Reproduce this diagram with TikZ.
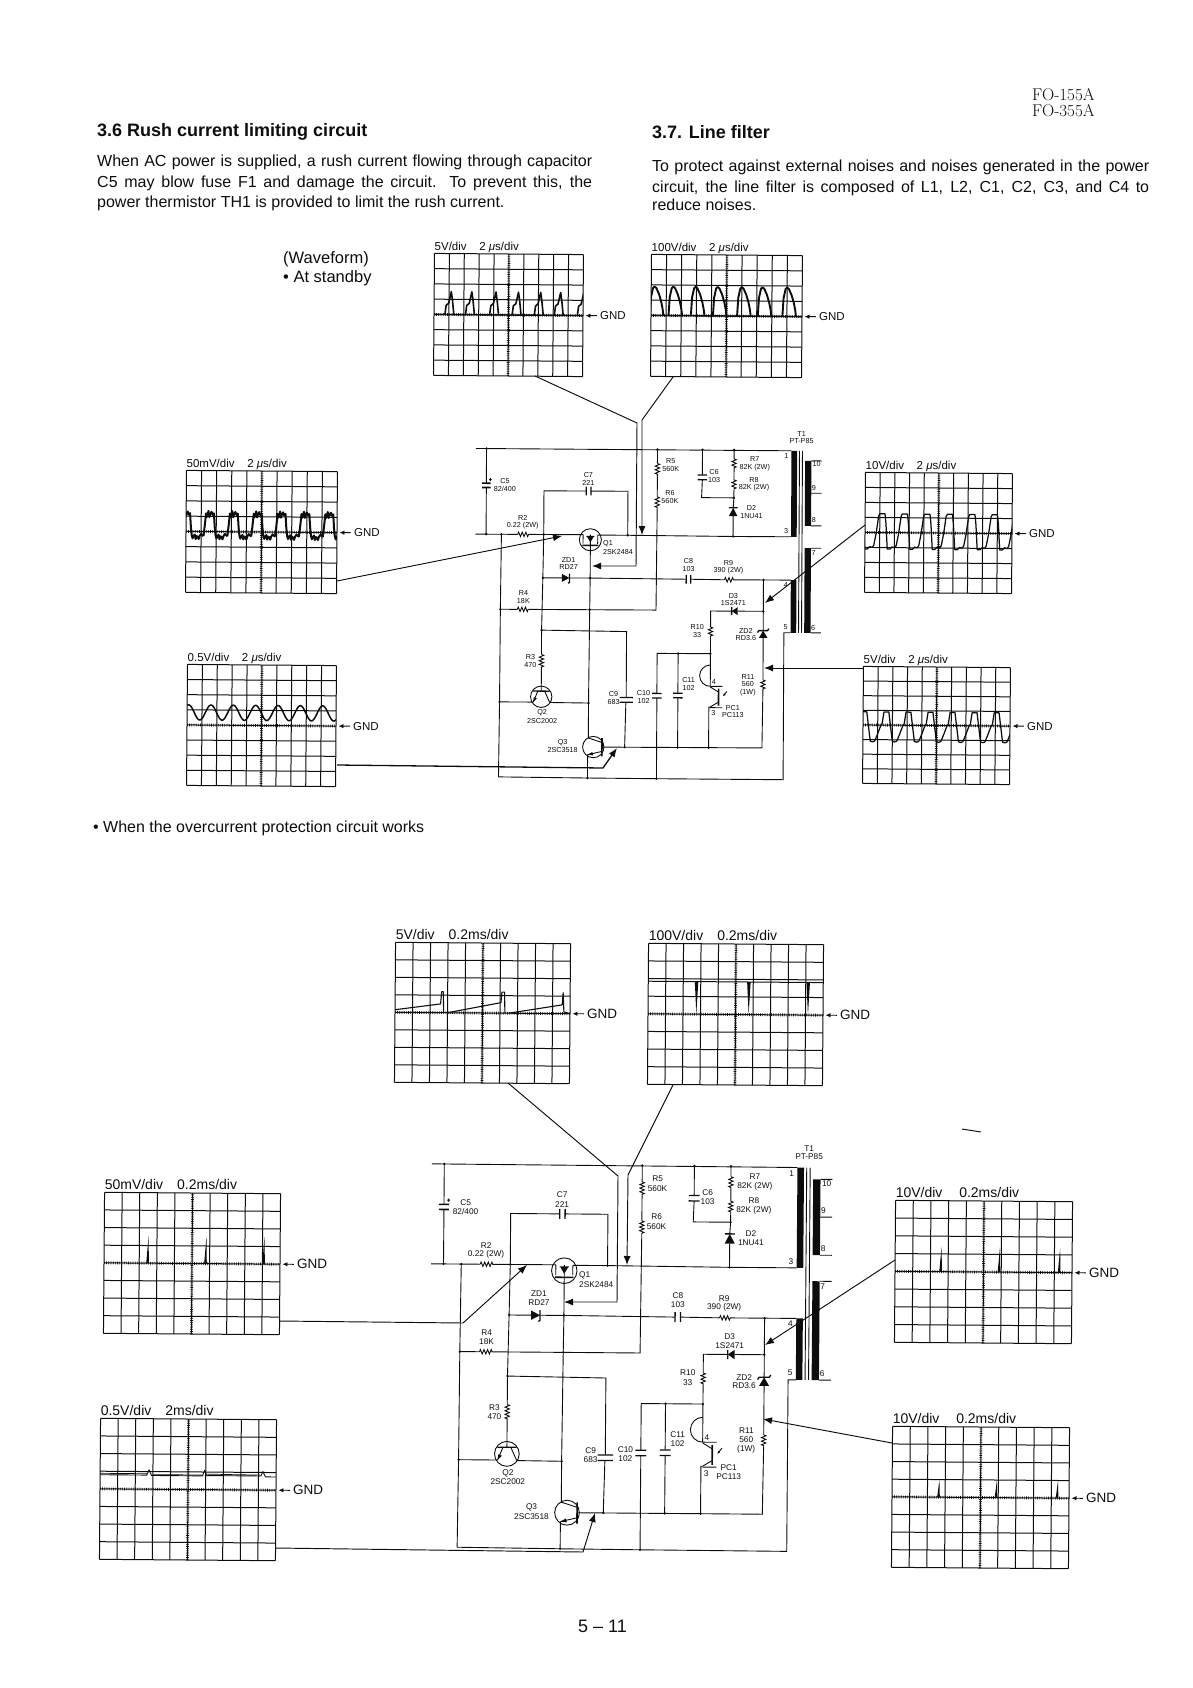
\documentclass[tikz,border=0pt]{standalone}
\usepackage{fontspec}
\setsansfont{Liberation Sans}
\renewcommand\familydefault{\sfdefault}
\usetikzlibrary{arrows.meta,decorations.pathmorphing}
\definecolor{ink}{gray}{0.05}
\newcount\lblcount
\tikzset{
  gridline/.style={draw=ink,line width=1pt},
  axistick/.style={draw=ink,line width=2.8pt,dash pattern=on 0.7pt off 1.5pt},
  wave/.style={draw=ink,line join=round,line width=1.4pt},
  wire/.style={draw=ink,line width=0.9pt},
  rz/.style={draw=ink,line width=0.9pt,decorate,decoration={zigzag,amplitude=2.2pt,segment length=3.6pt}},
  plate/.style={draw=ink,line width=1.3pt},
  link/.style={draw=ink,line width=0.95pt},
  tiplink/.style={draw=ink,line width=0.95pt,-{Latex[length=9pt,width=7pt]}},
  gndarrow/.style={draw=ink,line width=0.9pt,-{Latex[length=5pt,width=4.5pt]}},
  para/.style={anchor=base west,inner sep=0pt,text=ink},
  clabel/.style={inner sep=0pt,text=ink},
}
\newcommand\fs[1]{\fontsize{#1}{#1}\selectfont}
% ---- oscilloscope ---- name,left,top,right,bottom,label font,label,waves
\newcommand\oscope[8]{%
  \pgfmathsetmacro\ux{(#4-#2)/10}\pgfmathsetmacro\uy{(#5-#3)/8}%
  \pgfmathsetmacro\cx{(#2+#4)/2}\pgfmathsetmacro\cy{(#3+#5)/2}%
  \begin{scope}[shift={(\cx,\cy)},rotate=-0.45,x=\ux pt,y=\uy pt,shift={(-5,0)}]
    \foreach \i in {0,...,10}{\draw[gridline] (\i,-4)--(\i,4);}
    \foreach \i in {-4,...,4}{\draw[gridline] (0,\i)--(10,\i);}
    \draw[axistick] (5,-4)--(5,4);
    \draw[axistick] (0,0)--(10,0);
    \begin{scope}
      \clip (0,-4) rectangle (10,4);
      #8
    \end{scope}
    \coordinate (#1edge) at (10,0);
    \node[para,font=\fs{#6},anchor=base west] (#1label) at ([yshift=3pt]0,4) {#7};
    \node[anchor=west,inner xsep=3pt,inner ysep=0pt,text=ink,font=\fs{\gndsize}] (#1gnd) at ([xshift=14pt]10,0) {GND};
    \draw[gndarrow] (#1gnd.west) -- ([xshift=2.5pt]#1edge);
  \end{scope}%
}
\newcommand\pulses[3]{\foreach \s in {#1}{\draw[wave,line width=#2,shift={(\s,0)}] plot coordinates {#3};}}
\newcommand\spk[2]{\foreach \s in {#1}{\fill[ink] (\s-.1,0)--(\s+.02,#2)--(\s+.05,0)--cycle;}}
% ---- circuit helpers (zoom units) ----
\newcommand\vres[3]{\draw[rz] (#1,#2)--(#1,#3);}
\newcommand\hres[3]{\draw[rz] (#2,#1)--(#3,#1);}
\newcommand\vcapz[3]{\draw[plate] (#1-#3,#2-7)--(#1+#3,#2-7);\draw[plate] (#1-#3,#2+7)--(#1+#3,#2+7);}
\newcommand\hcapz[3]{\draw[plate] (#1-7,#2-#3)--(#1-7,#2+#3);\draw[plate] (#1+7,#2-#3)--(#1+7,#2+#3);}
\newcommand\lab[3]{\global\advance\lblcount by 1\node[clabel] (lab\the\lblcount) at (#1,#2) {#3};}
% prefix,x0,y0,sx,sy,font,rot
\newcommand\circuit[7]{%
\begin{scope}[shift={(#2,#3)},x=#4pt,y=-#5pt,rotate around={#7:(600,580)},font=\fs{#6}]
  % named junctions
  \coordinate (#1a) at (137,88); \coordinate (#1b) at (650,88); \coordinate (#1c) at (785,88); \coordinate (#1d) at (880,88);
  \coordinate (#1e) at (137,345); \coordinate (#1f) at (183,345); \coordinate (#1g) at (310,345); \coordinate (#1h) at (562,346);
  \coordinate (#1i) at (878,348); \coordinate (#1j) at (308,475); \coordinate (#1k) at (450,475); \coordinate (#1l) at (970,478);
  \coordinate (#1m) at (181,570); \coordinate (#1n) at (449,570); \coordinate (#1o) at (970,572); \coordinate (#1p) at (305,632);
  \coordinate (#1q) at (812,700); \coordinate (#1r) at (715,700); \coordinate (#1s) at (180,848); \coordinate (#1t) at (447,850);
  \coordinate (#1u) at (556,982); \coordinate (#1v) at (715,982); \coordinate (#1w) at (808,982); \coordinate (#1x) at (445,1075);
  \coordinate (#1y) at (652,1076); \coordinate (#1z) at (880,232);
  % top rail
  \draw[wire] (105,88) -- (1052,90);
  \draw[wire] (#1a) -- (137,191) (137,207) -- (#1e);
  \draw[plate,line width=1.6pt] (124,192)--(150,192) (124,205)--(150,205);
  \draw[wire] (145,181)--(153,181) (149,177)--(149,185);
  % second rail
  \draw[wire] (105,345) -- (232,345) (265,345) -- (#1g) -- (428,345);
  \hres{345}{232}{265}
  \draw[wire] (472,346) -- (#1h) -- (#1i) -- (1052,348);
  % left vertical
  \draw[wire] (#1f) -- (#1m) -- (#1s) -- (178,1073);
  % C7
  \draw[wire] (#1g) -- (310,214) -- (437,214) (450,214) -- (562,214) -- (#1h);
  \hcapz{444}{214}{13}
  % x=310 down
  \draw[wire] (#1g) -- (#1j) -- (#1p) -- (305,705) (305,745) -- (305,815);
  \vres{305}{705}{745}
  % C8 row
  \draw[wire] (#1j) -- (365,475) (388,475) -- (#1k) -- (738,477) (752,477) -- (853,478) (885,478) -- (#1l) -- (1052,478);
  \fill[ink] (365,463)--(365,487)--(388,475)--cycle;
  \draw[plate] (384,491)--(388,488)--(388,462);
  \hcapz{745}{477}{13}
  \hres{478}{853}{885}
  % R4, R5, R6
  \draw[wire] (#1m) -- (232,570) (265,570) -- (#1n) -- (648,570) -- (650,265) (650,230) -- (650,165) (650,130) -- (#1b);
  \hres{570}{232}{265}
  \vres{650}{130}{165}
  \vres{650}{230}{265}
  % Q1
  \draw[wire] (450,360) circle (33);
  \draw[wire] (428,345)--(428,372) (472,346)--(472,372);
  \draw[plate,line width=1.6pt] (426,377)--(474,377);
  \fill[ink] (440,351)--(460,351)--(450,368)--cycle;
  \draw[wire] (438,350)--(462,350) (450,345)--(450,377);
  % gate vertical
  \draw[wire] (450,377) -- (#1k) -- (#1n) -- (#1t) -- (447,955) (445,1005) -- (#1x);
  % C9
  \draw[wire] (#1p) -- (560,635) -- (560,832) (559,848) -- (#1u);
  \vcapz{560}{840}{20}
  % Q2
  \draw[wire] (305,832) circle (32);
  \draw[plate] (280,815)--(330,815);
  \draw[wire] (294,817)--(281,848) (316,817)--(330,848);
  \fill[ink] (281,848)--(283,833)--(292,837)--cycle;
  \draw[wire] (#1s)--(281,848) (330,849)--(#1t);
  % Q3
  \draw[wire] (462,982) circle (32);
  \draw[plate,line width=1.6pt] (488,955)--(488,1010);
  \draw[wire] (488,968)--(447,955) (488,995)--(445,1005);
  \fill[ink] (445,1005)--(459,997)--(462,1007)--cycle;
  \draw[wire] (488,982) -- (#1u) -- (#1v) -- (#1w) -- (968,982) -- (970,808) (970,778) -- (970,652) (970,630) -- (#1o) -- (#1l);
  \vres{970}{778}{808}
  \fill[ink] (957,652)--(983,652)--(970,630)--cycle;
  \draw[plate] (953,636)--(957,630)--(983,630)--(987,624);
  % D3, R10
  \draw[wire] (#1o) -- (893,572) (875,572) -- (812,572) -- (812,620) (812,650) -- (#1q) -- (812,797);
  \fill[ink] (893,560)--(893,584)--(875,572)--cycle;
  \draw[plate] (875,560)--(875,584);
  \vres{812}{620}{650}
  % C10, C11
  \draw[wire] (#1q) -- (#1r) -- (652,700) -- (652,820) (652,834) -- (#1y);
  \vcapz{652}{827}{14}
  \draw[wire] (#1r) -- (715,818) (715,834) -- (#1v);
  \vcapz{715}{826}{14}
  % PC1
  \draw[wire] (812,798) arc[start angle=90,end angle=270,radius=32];
  \draw[wire] (812,798)--(848,798) (812,862)--(848,862);
  \draw[plate,line width=1.6pt] (837,805)--(837,856);
  \draw[wire] (837,815)--(812,800) (837,845)--(812,860);
  \draw[wire] (812,860)--(808,860) -- (#1w);
  \draw[wire,-{Latex[length=3pt,width=2.5pt]}] (862,813)--(850,828);
  % bottom rail
  \draw[wire] (178,1073) -- (#1x) -- (#1y) -- (1032,1077) -- (1032,636) -- (1052,636);
  % C6, R7, R8, D2
  \draw[wire] (#1c) -- (785,163) (785,179) -- (783,232) -- (#1z);
  \vcapz{785}{171}{14}
  \draw[wire] (#1d) -- (880,115) (880,145) -- (880,178) (880,208) -- (#1z) -- (878,262) (878,287) -- (#1i);
  \vres{880}{115}{145}
  \vres{880}{178}{208}
  \fill[ink] (865,287)--(891,287)--(878,262)--cycle;
  \draw[plate] (865,262)--(891,262);
  % transformer
  \fill[ink] (1052,90) rectangle (1069,348);
  \fill[ink] (1052,478) rectangle (1069,636);
  \draw[wire] (1076,90)--(1076,636) (1085,90)--(1085,636);
  \fill[ink] (1093,120) rectangle (1112,315);
  \fill[ink] (1093,382) rectangle (1112,636);
  \draw[wire] (1112,120)--(1143,120) (1112,217)--(1143,217) (1112,315)--(1143,315) (1112,382)--(1143,382) (1112,636)--(1143,636);
  % junction dots
  \foreach \n in {a,b,c,d,e,f,g,h,i,j,k,l,m,n,o,p,q,r,s,t,u,v,w,x,y,z}{\fill[ink] (#1\n) circle (1.3pt);}
  % labels
  \lab{1082}{40}{T1}\lab{1082}{62}{PT-P85}
  \lab{1037}{105}{1}\lab{1037}{332}{3}\lab{1037}{492}{4}\lab{1037}{618}{5}
  \lab{1128}{130}{10}\lab{1120}{200}{9}\lab{1120}{298}{8}\lab{1120}{397}{7}\lab{1120}{620}{6}
  \lab{247}{296}{R2}\lab{247}{320}{0.22 (2W)}
  \lab{443}{165}{C7}\lab{443}{190}{221}
  \lab{193}{186}{C5}\lab{193}{210}{82/400}
  \lab{690}{122}{R5}\lab{690}{146}{560K}\lab{688}{220}{R6}\lab{688}{244}{560K}
  \lab{820}{156}{C6}\lab{820}{179}{103}
  \lab{942}{115}{R7}\lab{942}{140}{82K (2W)}\lab{940}{177}{R8}\lab{940}{201}{82K (2W)}
  \lab{933}{262}{D2}\lab{933}{285}{1NU41}
  \lab{503}{371}{Q1}\lab{533}{395}{2SK2484}
  \lab{385}{420}{ZD1}\lab{385}{443}{RD27}
  \lab{745}{423}{C8}\lab{745}{445}{103}
  \lab{865}{428}{R9}\lab{865}{451}{390 (2W)}
  \lab{880}{527}{D3}\lab{880}{549}{1S2471}
  \lab{250}{522}{R4}\lab{250}{545}{18K}
  \lab{772}{620}{R10}\lab{772}{644}{33}
  \lab{918}{630}{ZD2}\lab{918}{652}{RD3.6}
  \lab{272}{713}{R3}\lab{272}{737}{470}
  \lab{925}{768}{R11}\lab{925}{791}{560}\lab{925}{815}{(1W)}
  \lab{522}{823}{C9}\lab{522}{846}{683}
  \lab{612}{820}{C10}\lab{612}{842}{102}
  \lab{747}{779}{C11}\lab{747}{802}{102}
  \lab{823}{786}{4}\lab{822}{878}{3}
  \lab{880}{862}{PC1}\lab{880}{885}{PC113}
  \lab{308}{881}{Q2}\lab{308}{904}{2SC2002}
  \lab{370}{970}{Q3}\lab{370}{992}{2SC3518}
\end{scope}%
}
\newcommand\gndsize{11.5}
\begin{document}
\begin{tikzpicture}[x=1pt,y=-1pt]
\useasboundingbox (0,0) rectangle (1192,1688);
% ---- page text ----
\node[para,font={\rmfamily\fs{17}}] (hdrA) at (1032,101) {FO-155A};
\node[para,font={\rmfamily\fs{17}}] (hdrB) at (1032,117) {FO-355A};
\node[para,font={\bfseries\fs{18}}] (headA) at (97,137) {3.6 Rush current limiting circuit};
\node[para,font={\bfseries\fs{18}}] (headB) at (652,139) {3.7. Line filter};
\node[para,font=\fs{16}] (bodyA1) at (97,167) {\makebox[495pt][s]{When AC power is supplied, a rush current flowing through capacitor}};
\node[para,font=\fs{16}] (bodyA2) at (97,188) {\makebox[495pt][s]{C5 may blow fuse F1 and damage the circuit. To prevent this, the}};
\node[para,font=\fs{16}] (bodyA3) at (97,208) {power thermistor TH1 is provided to limit the rush current.};
\node[para,font=\fs{16}] (bodyB1) at (652,172) {\makebox[497pt][s]{To protect against external noises and noises generated in the power}};
\node[para,font=\fs{16}] (bodyB2) at (652,193) {\makebox[497pt][s]{circuit, the line filter is composed of L1, L2, C1, C2, C3, and C4 to}};
\node[para,font=\fs{16}] (bodyB3) at (652,211) {reduce noises.};
\node[para,font=\fs{16.5}] (wfA) at (283,264) {(Waveform)};
\node[para,font=\fs{16.5}] (wfB) at (283,282) {\textbullet\ At standby};
\node[para,font=\fs{16}] (over) at (93,832) {\textbullet\ When the overcurrent protection circuit works};
\node[para,font=\fs{18}] (pageno) at (578,1632) {5 -- 11};
% ---- upper scopes ----
\oscope{A}{434}{254}{583}{376}{11.5}{5V/div\hspace{1.1em}2 {\itshape μ}s/div}{%
  \draw[wave,line width=1.4pt] (0,0)--(10,0);
  \pulses{0.73,2.11,3.73,5.24,6.73,8.07,9.62}{1.6pt}{(0,0)(.08,.6)(.25,.75)(.42,1.5)(.5,.95)(.6,0)}}
\oscope{B}{651}{255}{802}{377}{11.5}{100V/div\hspace{1.1em}2 {\itshape μ}s/div}{%
  \draw[wave,line width=1.4pt] (0,0)--(10,0);
  \pulses{-.08,1.16,2.64,4.1,5.7,7.07,8.7}{1.9pt}{(0,0)(.07,1.2)(.2,1.8)(.3,1.9)(.42,1.8)(.6,1.4)(.75,.9)(.85,.4)(.9,0)}}
\oscope{C}{186}{471}{337}{593}{11.5}{50mV/div\hspace{1.1em}2 {\itshape μ}s/div}{%
  \pulses{-.42,1.16,2.74,4.32,5.9,7.48,9.06}{2pt}{(0,-.3)(.08,.4)(.16,1.2)(.2,.95)(.25,1.05)(.32,1.35)(.38,.95)(.42,1.1)(.52,1.3)(.6,1.1)(.68,1.2)(.74,.3)(.8,-.25)(.86,-.45)(.92,-.3)(1,-.2)(1.06,-.5)(1.12,-.3)(1.2,-.35)(1.26,-.5)(1.32,-.3)(1.42,-.15)(1.58,-.3)}}
\oscope{D}{187}{665}{336}{786}{11.5}{0.5V/div\hspace{1.1em}2 {\itshape μ}s/div}{%
  \draw[wave,line width=1.5pt] plot[domain=0:10,samples=160] (\x,{.83+.5*cos(240*(\x-1.6))});}
\oscope{E}{865}{473}{1012}{593}{11.5}{10V/div\hspace{1.1em}2 {\itshape μ}s/div}{%
  \pulses{-1.03,.5,2.03,3.56,5.09,6.62,8.15,9.68}{1.25pt}{(0,-1)(.1,-.85)(.25,-.1)(.42,1.1)(.5,1.25)(.85,1.25)(.92,.6)(1.02,-1.1)(1.2,-1.1)(1.35,-.95)(1.53,-1)}}
\oscope{F}{863}{667}{1010}{784}{11.5}{5V/div\hspace{1.1em}2 {\itshape μ}s/div}{%
  \pulses{-.7,.8,2.3,3.8,5.3,6.8,8.3,9.8}{1.25pt}{(0,-1.1)(.2,-.6)(.4,-.05)(.5,.1)(.62,.9)(.95,.9)(1.2,-1.1)(1.35,-1.15)(1.5,-1.1)}}
% ---- lower scopes ----
\renewcommand\gndsize{13.5}
\oscope{G}{395}{943}{570}{1083}{14}{5V/div\hspace{1em}0.2ms/div}{%
  \draw[wave,line width=1.1pt] (0,.15)--(2.6,.5)--(2.66,1.2)--(2.75,1.2)--(2.78,0);
  \draw[wave,line width=1.1pt] (3,0)--(6.05,.6)--(6.1,1.2)--(6.25,1.2)--(6.28,0);
  \draw[wave,line width=1.1pt] (6.5,0)--(9.55,.5)--(9.6,1.2)--(9.65,.1)--(10,0);}
\oscope{H}{648}{944}{823}{1085}{14}{100V/div\hspace{1em}0.2ms/div}{%
  \draw[wave,line width=1pt] (0,1.85)--(10,1.85);
  \foreach \s in {2.76,5.75,9.14}{\fill[ink] (\s-.1,1.85)--(\s+.1,1.85)--(\s,0)--cycle;}}
\oscope{I}{104}{1193}{280}{1334}{14}{50mV/div\hspace{1em}0.2ms/div}{\spk{2.5,5.79,9.09}{1.55}}
\oscope{J}{100}{1419}{276}{1560}{14}{0.5V/div\hspace{1em}2ms/div}{%
  \draw[wave,line width=.9pt] (0,.8)--(2.65,.8)--(2.78,1.1)--(2.92,.78)--(5.82,.78)--(5.94,1.1)--(6.06,.8)--(9.13,.8)--(9.25,1.05)--(9.4,.75)--(10,.75);
  \draw[wave,line width=.7pt] (0,.88)--(2.65,.88) (3,.83)--(5.8,.83) (6.1,.88)--(9.1,.85);}
\oscope{K}{895}{1201}{1072}{1343}{14}{10V/div\hspace{1.2em}0.2ms/div}{\spk{2.6,5.9,9.3}{1.4}}
\oscope{L}{892}{1427}{1069}{1568}{14}{10V/div\hspace{1.2em}0.2ms/div}{\spk{2.65,5.9,9.35}{1.0}}
% ---- circuits ----
\circuit{ua}{440}{420}{0.3333}{0.3333}{7.2}{-0.3}
\circuit{lo}{389.9}{1131.1}{0.386}{0.389}{8.3}{-0.45}
% ---- connectors, upper ----
\coordinate (pA0) at (535,376); \coordinate (pA1) at (637,423); \coordinate (pA2) at (636,566); \coordinate (tA) at (592,566);
\coordinate (pB0) at (673,377); \coordinate (pB1) at (642,420); \coordinate (tB) at (642,535);
\coordinate (pC0) at (337,581); \coordinate (tC) at (562,536);
\coordinate (pD0) at (337,765); \coordinate (pD1) at (603,768); \coordinate (tD) at (617,748);
\coordinate (pE0) at (865,525); \coordinate (tE) at (765,603);
\coordinate (pF0) at (863,668); \coordinate (tF) at (764,668);
\draw[tiplink] (pA0) -- (pA1) -- (pA2) -- (tA);
\draw[tiplink] (pB0) -- (pB1) -- (tB);
\draw[tiplink] (pC0) -- (tC);
\draw[tiplink,line width=1.3pt] (pD0) -- (pD1) -- (tD);
\draw[tiplink] (pE0) -- (tE);
\draw[tiplink] (pF0) -- (tF);
% ---- connectors, lower ----
\coordinate (qG0) at (508,1083); \coordinate (qG1) at (618,1176); \coordinate (qG2) at (617,1302); \coordinate (tG) at (564,1302);
\coordinate (qH0) at (673,1085); \coordinate (qH1) at (628,1175); \coordinate (tH) at (627,1265);
\coordinate (qI0) at (279,1321); \coordinate (qI1) at (463,1323); \coordinate (tI) at (527,1265);
\coordinate (qJ0) at (275,1548); \coordinate (qJ1) at (583,1552); \coordinate (tJ) at (595,1513);
\coordinate (qK0) at (895,1260); \coordinate (tK) at (765,1345);
\coordinate (qL0) at (892,1443); \coordinate (tL) at (763,1419);
\draw[tiplink] (qG0) -- (qG1) -- (qG2) -- (tG);
\draw[tiplink] (qH0) -- (qH1) -- (tH);
\draw[tiplink] (qI0) -- (qI1) -- (tI);
\draw[tiplink] (qJ0) -- (qJ1) -- (tJ);
\draw[tiplink] (qK0) -- (tK);
\draw[tiplink] (qL0) -- (tL);
% stray mark
\coordinate (markA) at (962,1129); \coordinate (markB) at (981,1132);
\draw[link] (markA) -- (markB);
\end{tikzpicture}
\end{document}
